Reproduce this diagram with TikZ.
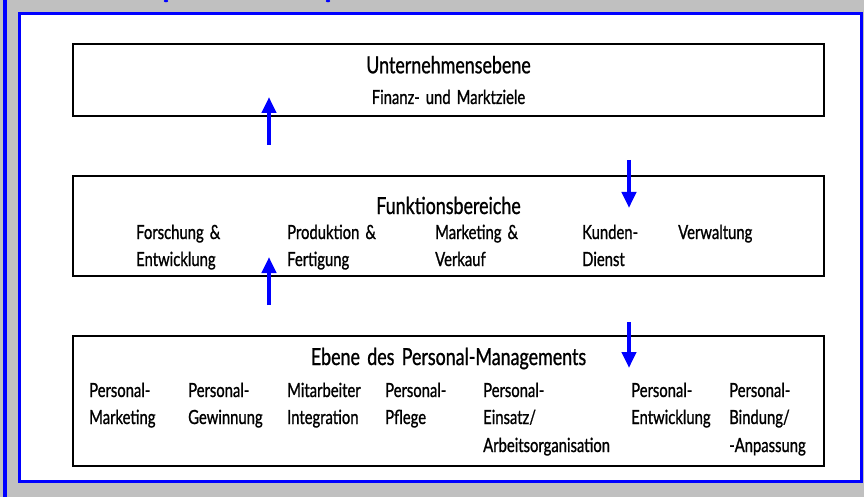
\documentclass[tikz,border=0pt]{standalone}
\usepackage{fontspec}
\setmainfont[FakeStretch=0.76, FakeBold=1.0, WordSpace=1.6]{Lato}
\usetikzlibrary{arrows.meta}
\definecolor{bggray}{HTML}{C0C0C0}
\definecolor{frameblue}{HTML}{0000FF}
\tikzset{
  levelbox/.style={draw=black, line width=2.5pt, fill=white, minimum width=751pt, inner sep=0pt},
  titletext/.style={anchor=base, inner sep=0pt, font=\fontsize{23.5}{27}\selectfont},
  subtext/.style={anchor=base, inner sep=0pt, font=\fontsize{19.5}{27}\selectfont},
  itemtext/.style={anchor=base west, inner sep=0pt, font=\fontsize{19.5}{27}\selectfont},
  flowarrow/.style={draw=frameblue, line width=4pt, -{Triangle[length=16pt,width=14pt]}},
}
\begin{document}
\begin{tikzpicture}[x=1pt,y=-1pt]
\useasboundingbox (0,0) rectangle (864,497);
\fill[bggray] (0,0) rectangle (864,497);
\draw[frameblue, line width=4pt] (5,0) -- (5,497);
\draw[frameblue, line width=3pt, fill=white] (19.5,13.5) rectangle (861,481.5);
% cut-off fragments of the blue heading
\fill[frameblue] (166,1.0) ellipse (2.2pt and 1.3pt);
\fill[frameblue] (328,1.0) ellipse (2.2pt and 1.3pt);

% boxes
\node[levelbox, minimum height=72pt] (top) at (448.5,80) {};
\node[levelbox, minimum height=100pt] (mid) at (448.5,226) {};
\node[levelbox, minimum height=130pt] (bot) at (448.5,401) {};

% top box text
\node[titletext] (toptitle) at (448.5,73.3) {Unternehmensebene};
\node[subtext] (topsub) at (448.5,104) {Finanz- und Marktziele};

% middle box text
\node[titletext] (midtitle) at (448.5,214) {Funktionsbereiche};
\node[itemtext] (m1a) at (136,239) {Forschung \&};
\node[itemtext] (m1b) at (136,266) {Entwicklung};
\node[itemtext] (m2a) at (287,239) {Produktion \&};
\node[itemtext] (m2b) at (287,266) {Fertigung};
\node[itemtext] (m3a) at (435,239) {Marketing \&};
\node[itemtext] (m3b) at (435,266) {Verkauf};
\node[itemtext] (m4a) at (582,239) {Kunden-};
\node[itemtext] (m4b) at (582,266) {Dienst};
\node[itemtext] (m5a) at (678,239) {Verwaltung};

% bottom box text
\node[titletext] (bottitle) at (448.5,365) {Ebene des Personal-Managements};
\node[itemtext] (b1a) at (89,397) {Personal-};
\node[itemtext] (b1b) at (89,424) {Marketing};
\node[itemtext] (b2a) at (188,397) {Personal-};
\node[itemtext] (b2b) at (188,424) {Gewinnung};
\node[itemtext] (b3a) at (287,397) {Mitarbeiter};
\node[itemtext] (b3b) at (287,424) {Integration};
\node[itemtext] (b4a) at (385,397) {Personal-};
\node[itemtext] (b4b) at (385,424) {Pflege};
\node[itemtext] (b5a) at (483,397) {Personal-};
\node[itemtext] (b5b) at (483,424) {Einsatz/};
\node[itemtext] (b5c) at (483,452) {Arbeitsorganisation};
\node[itemtext] (b6a) at (631,397) {Personal-};
\node[itemtext] (b6b) at (631,424) {Entwicklung};
\node[itemtext] (b7a) at (729,397) {Personal-};
\node[itemtext] (b7b) at (729,424) {Bindung/};
\node[itemtext] (b7c) at (729,452) {-Anpassung};

% arrows
\coordinate (a1s) at (269,145);
\coordinate (a1e) at (269,97);
\coordinate (a2s) at (629,160);
\coordinate (a2e) at (629,208);
\coordinate (a3s) at (269,305);
\coordinate (a3e) at (269,257);
\coordinate (a4s) at (629,322);
\coordinate (a4e) at (629,368);
\draw[flowarrow] (a1s) -- (a1e);
\draw[flowarrow] (a2s) -- (a2e);
\draw[flowarrow] (a3s) -- (a3e);
\draw[flowarrow] (a4s) -- (a4e);
\end{tikzpicture}
\end{document}
